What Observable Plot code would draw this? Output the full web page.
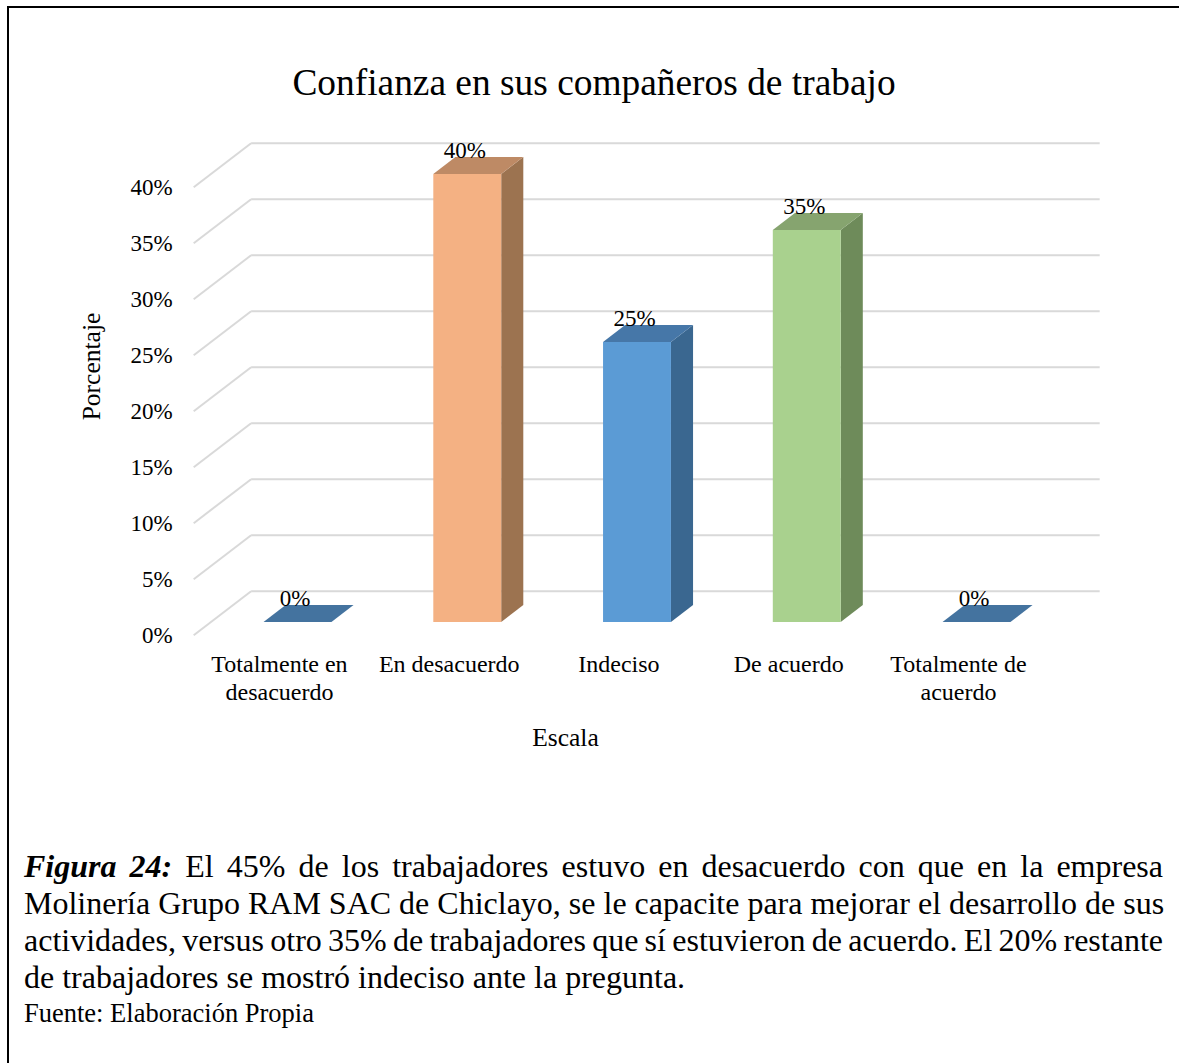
<!DOCTYPE html>
<html>
<head>
<meta charset="utf-8">
<script src="https://cdn.jsdelivr.net/npm/d3@7"></script>
<script src="https://cdn.jsdelivr.net/npm/@observablehq/plot@0.6"></script>
<style>
  html, body { margin: 0; padding: 0; background: #fff; }
  body { width: 1179px; height: 1063px; position: relative; overflow: hidden; font-family: "Liberation Serif", "Times New Roman", serif; color: #000; }
  #frame { position: absolute; left: 7px; top: 6px; width: 1200px; height: 1100px; border-left: 2.5px solid #000; border-top: 2.5px solid #000; }
  #chart { position: absolute; left: 0; top: 0; }
  #title { position: absolute; left: 0; width: 1188px; top: 64px; text-align: center; font-size: 37.4px; line-height: 37px; }
  #caption { position: absolute; left: 24px; top: 848px; width: 1139px; font-size: 32px; line-height: 37px; }
  #caption .l { text-align: justify; text-align-last: justify; white-space: nowrap; }
  #caption .tight { word-spacing: -4.5px; }
  #caption .last { text-align: left; white-space: nowrap; }
  #source { position: absolute; left: 24px; top: 998px; font-size: 26.5px; line-height: 30px; }
</style>
</head>
<body>
<div id="frame"></div>
<div id="chart"></div>
<div id="title">Confianza en sus compañeros de trabajo</div>
<div id="caption">
  <div class="l"><b><i>Figura 24:</i></b> El 45% de los trabajadores estuvo en desacuerdo con que en la empresa</div>
  <div class="l">Molinería Grupo RAM SAC de Chiclayo, se le capacite para mejorar el desarrollo de sus</div>
  <div class="l tight">actividades, versus otro 35% de trabajadores que sí estuvieron de acuerdo. El 20% restante</div>
  <div class="last">de trabajadores se mostró indeciso ante la pregunta.</div>
</div>
<div id="source">Fuente: Elaboración Propia</div>
<script>
// ---- data ----
const categories = ["Totalmente en desacuerdo", "En desacuerdo", "Indeciso", "De acuerdo", "Totalmente de acuerdo"];
const categoryLabels = ["Totalmente en\ndesacuerdo", "En desacuerdo", "Indeciso", "De acuerdo", "Totalmente de\nacuerdo"];
const values = [0, 40, 25, 35, 0];
const yTicks = [0, 5, 10, 15, 20, 25, 30, 35, 40];
const yTickLabels = ["0%", "5%", "10%", "15%", "20%", "25%", "30%", "35%", "40%"];
const valueLabels = ["0%", "40%", "25%", "35%", "0%"];
const yTitle = "Porcentaje";
const xTitle = "Escala";

// ---- styles ----
const frontColors = ["#4675A4", "#F4B183", "#5B9BD5", "#A9D18E", "#4675A4"];
const sideColors  = ["#3A6790", "#9C7350", "#3A6790", "#6E8B5A", "#3A6790"];
const topColors   = ["#44739F", "#BE8A65", "#4677A8", "#86A46F", "#44739F"];
const gridColor = "#D9D9D9";
const FONT = "Liberation Serif, Times New Roman, serif";

// ---- layout ----
const xRange = [297.5, 976.5];   // pixel positions of first/last bar centres
const yRange = [622, 174];        // pixel positions of 0% and 40% on bar plane
const kx = (xRange[1] - xRange[0]) / 4;
const ky = (yRange[0] - yRange[1]) / 40;
const toDX = px => px / kx;
const toDY = py => -py / ky;
const depthPx = [57.4, -44];      // full floor depth vector in pixels
const barFront = 0.288, barDepthFrac = 0.385;
const frontOff = {x: toDX(-barFront * depthPx[0]), y: toDY(-barFront * depthPx[1])};
const backOff  = {x: toDX((1 - barFront) * depthPx[0]), y: toDY((1 - barFront) * depthPx[1])};
const barD     = {x: toDX(barDepthFrac * depthPx[0]), y: toDY(barDepthFrac * depthPx[1])};
const xLo = -0.517, xHi = 4.482;
const halfW = 0.2;

const rows = categories.map((c, i) => ({i, cat: c, v: values[i]}));

const sidePts = rows.filter(d => d.v > 0).flatMap(d => [
  {cat: d.cat, x: d.i + halfW, y1: 0, y2: d.v, fill: sideColors[d.i]},
  {cat: d.cat, x: d.i + halfW + barD.x, y1: barD.y, y2: d.v + barD.y, fill: sideColors[d.i]}
]);
const topPts = rows.flatMap(d => [
  {cat: d.cat, y: d.v, x1: d.i - halfW, x2: d.i + halfW, fill: topColors[d.i]},
  {cat: d.cat, y: d.v + barD.y, x1: d.i - halfW + barD.x, x2: d.i + halfW + barD.x, fill: topColors[d.i]}
]);

const chart = Plot.plot({
  width: 1179,
  height: 770,
  marginLeft: 0, marginRight: 0, marginTop: 0, marginBottom: 0,
  style: {fontFamily: FONT, fontSize: "23px", background: "transparent", color: "#000", overflow: "visible"},
  x: {type: "linear", domain: [0, 4], range: xRange, axis: null},
  y: {type: "linear", domain: [0, 40], range: yRange, axis: null},
  color: {type: "identity"},
  marks: [
    // side wall diagonals
    Plot.link(yTicks, {x1: xLo + frontOff.x, x2: xLo + backOff.x, y1: d => d + frontOff.y, y2: d => d + backOff.y, stroke: gridColor, strokeWidth: 2}),
    // back wall gridlines
    Plot.link(yTicks, {x1: xLo + backOff.x, x2: xHi + backOff.x, y1: d => d + backOff.y, y2: d => d + backOff.y, stroke: gridColor, strokeWidth: 2}),
    // bar sides
    Plot.areaY(sidePts, {x: "x", y1: "y1", y2: "y2", z: "cat", fill: "fill", curve: "linear"}),
    // bar fronts
    Plot.rect(rows.filter(d => d.v > 0), {x1: d => d.i - halfW, x2: d => d.i + halfW, y1: 0, y2: "v", fill: d => frontColors[d.i]}),
    // bar tops
    Plot.areaX(topPts, {y: "y", x1: "x1", x2: "x2", z: "cat", fill: "fill", curve: "linear"}),
    // value labels
    Plot.text(rows, {x: "i", y: d => d.v + barD.y, text: d => valueLabels[d.i], lineAnchor: "bottom", dy: 0, dx: -3, fontSize: 23, fill: "#000"}),
    // y tick labels
    Plot.text(yTicks, {x: xLo + frontOff.x, y: d => d + frontOff.y, text: (d, i) => yTickLabels[i], textAnchor: "end", dx: -21, fontSize: 23, fill: "#000"}),
    // category labels
    Plot.text(rows, {x: d => d.i + frontOff.x, y: frontOff.y, text: d => categoryLabels[d.i], lineAnchor: "top", dy: 17, dx: -2, fontSize: 24, lineHeight: 1.17, fill: "#000"}),
    // axis titles
    Plot.text([yTitle], {frameAnchor: "top-left", dx: 91.5, dy: 366, rotate: -90, textAnchor: "middle", lineAnchor: "middle", fontSize: 25.5, fill: "#000"}),
    Plot.text([xTitle], {frameAnchor: "top-left", dx: 565, dy: 737, textAnchor: "middle", lineAnchor: "middle", fontSize: 25.5, fill: "#000"})
  ]
});
document.getElementById("chart").appendChild(chart);
</script>
</body>
</html>
